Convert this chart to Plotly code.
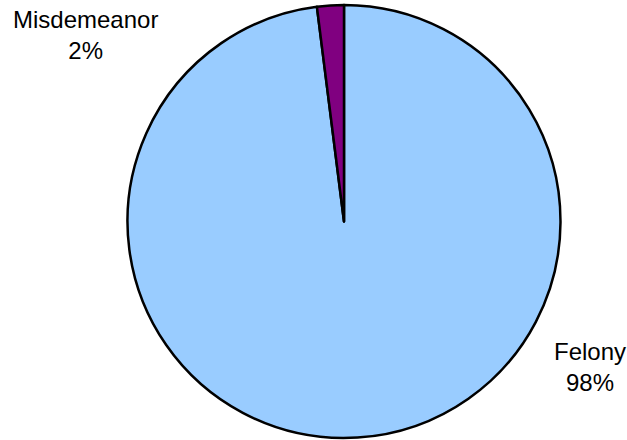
import plotly.graph_objects as go

# Case type breakdown
categories = ["Felony", "Misdemeanor"]
values = [98, 2]
colors = ["#99CCFF", "#800080"]

W, H = 627, 440
total = sum(values)
pct = [f"{round(v / total * 100)}%" for v in values]

fig = go.Figure(
    go.Pie(
        labels=categories,
        values=values,
        sort=False,
        direction="clockwise",
        rotation=0,
        marker=dict(colors=colors, line=dict(color="black", width=2.5)),
        textinfo="none",
        hoverinfo="label+percent",
        showlegend=False,
        domain=dict(x=[125 / W, 563 / W], y=[2 / H, 435 / H]),
    )
)

# Outside labels: category name with its share underneath
label_pos = {"Misdemeanor": (85, 35), "Felony": (590, 367)}
annotations = []
for cat, p in zip(categories, pct):
    px, py = label_pos[cat]
    annotations.append(
        dict(
            x=px / W, y=1 - py / H, xref="paper", yref="paper",
            text=f"{cat}<br>{p}", showarrow=False,
            xanchor="center", yanchor="middle", align="center",
            font=dict(family="Liberation Sans, Arial", size=24, color="black"),
        )
    )

fig.update_layout(
    width=W, height=H,
    margin=dict(l=0, r=0, t=0, b=0),
    paper_bgcolor="white", plot_bgcolor="white",
    annotations=annotations,
)

fig.write_html("out.html")
